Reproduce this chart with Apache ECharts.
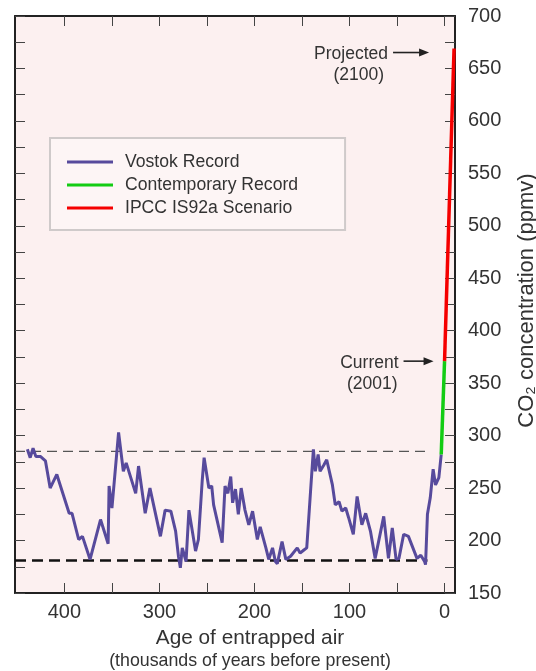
<!DOCTYPE html>
<html>
<head>
<meta charset="utf-8">
<script src="https://cdn.jsdelivr.net/npm/echarts@6/dist/echarts.min.js"></script>
<style>
  html, body { margin: 0; padding: 0; background: #fff; }
  #chart { width: 536px; height: 671px; }
</style>
</head>
<body>
<div id="chart"></div>
<script>
// Vostok ice core: [age (thousand years BP), CO2 ppmv]
var vostokRecord = [
    [439, 287], [436, 279], [433, 288], [430, 280], [425, 280], [420, 276],
    [415, 250], [408, 263], [395, 226], [392, 226], [385, 201], [381, 204],
    [373, 182], [362, 220], [354, 197], [353, 252], [350, 231], [343, 303],
    [338, 266], [335, 274], [325, 245], [322, 271], [315, 226], [310, 250],
    [299, 204], [294, 229], [288, 228], [283, 209], [280, 185], [278, 174],
    [276, 193], [272, 180], [269, 229], [262, 190], [259, 201], [255, 257],
    [253, 279], [248, 250], [245, 252], [243, 234], [234, 198], [231, 252],
    [228, 245], [225, 261], [223, 236], [220, 249], [217, 225], [214, 250],
    [210, 229], [206, 215], [202, 228], [197, 201], [194, 213], [188, 193],
    [185, 182], [181, 193], [178, 180], [176, 178], [171, 199], [167, 182],
    [162, 185], [155, 193], [152, 188], [148, 191], [145, 193], [141, 247],
    [138, 287], [136, 266], [133, 282], [131, 266], [127, 272], [124, 277],
    [118, 253], [115, 234], [111, 237], [108, 228], [104, 231], [101, 222],
    [96, 206], [92, 242], [87, 215], [83, 226], [78, 209], [73, 183],
    [64, 223], [59, 183], [55, 212], [51, 182], [48, 183], [43, 206],
    [38, 204], [29, 183], [25, 186], [21, 180], [20, 177], [18, 225],
    [15, 241], [12, 268], [9.5, 253], [6, 260], [3.5, 282]
];
var contemporaryRecord = [[3.5, 282], [0, 371]];
var ipccScenario = [[0, 371], [-10, 669]];

// reference levels (dashed lines) and their age span
var interglacialLevel = 285;
var glacialLevel = 181;
var referenceSpan = [452, 18];

// axis ranges, ticks and labels
var ageRange = [-11, 452];
var ageTicks = [0, 50, 100, 150, 200, 250, 300, 350, 400];
var ageLabels = [0, 100, 200, 300, 400];
var co2Range = [150, 700];
var co2Ticks = [150, 175, 200, 225, 250, 275, 300, 325, 350, 375, 400, 425, 450,
    475, 500, 525, 550, 575, 600, 625, 650, 675, 700];
var co2Labels = [150, 200, 250, 300, 350, 400, 450, 500, 550, 600, 650, 700];

var currentMark = [0, 371];
var projectedMark = [-10, 669];

var FONT = '"Liberation Sans", Arial, Helvetica, sans-serif';
var INK = '#333';

var chart = echarts.init(document.getElementById('chart'));

function edgeAxis(extra) {
    var base = {
        type: 'value',
        axisLine: { show: true, onZero: false, lineStyle: { color: '#222', width: 2 } },
        axisTick: { show: true, inside: true, length: 10, lineStyle: { color: '#444', width: 1 } },
        splitLine: { show: false },
        axisLabel: { show: false }
    };
    return Object.assign(base, extra);
}

var option = {
    animation: false,
    backgroundColor: '#fff',
    grid: {
        left: 15, right: 81, top: 16, bottom: 78,
        outerBoundsMode: 'none', containLabel: false,
        show: true, backgroundColor: '#fcf0f0', borderWidth: 0
    },
    legend: {
        data: ['Vostok Record', 'Contemporary Record', 'IPCC IS92a Scenario'],
        orient: 'vertical',
        left: 50, top: 138,
        icon: 'rect', itemWidth: 46, itemHeight: 3, itemGap: 5,
        padding: [15, 47, 13, 17],
        borderColor: '#cfcaca', borderWidth: 2, backgroundColor: '#fdf5f5',
        textStyle: { fontFamily: FONT, fontSize: 17.6, color: INK, lineHeight: 18, padding: [0, 0, 0, 7] }
    },
    xAxis: [
        edgeAxis({
            position: 'bottom', inverse: true, min: ageRange[0], max: ageRange[1],
            axisTick: { show: true, inside: true, length: 10, customValues: ageTicks, lineStyle: { color: '#444' } },
            axisLabel: { show: true, customValues: ageLabels, margin: 9, fontFamily: FONT, fontSize: 20, color: INK },
            name: '{t|Age of entrapped air}\n{s|(thousands of years before present)}',
            nameLocation: 'middle', nameGap: 33,
            nameTextStyle: {
                padding: [0, 0, 0, 30],
                rich: {
                    t: { fontFamily: FONT, fontSize: 20.8, color: INK, lineHeight: 24 },
                    s: { fontFamily: FONT, fontSize: 17.8, color: INK, lineHeight: 22 }
                }
            }
        }),
        edgeAxis({
            position: 'top', inverse: true, min: ageRange[0], max: ageRange[1],
            axisTick: { show: true, inside: true, length: 10, customValues: ageTicks, lineStyle: { color: '#444' } }
        })
    ],
    yAxis: [
        edgeAxis({
            position: 'right', min: co2Range[0], max: co2Range[1], interval: 50,
            axisTick: { show: true, inside: true, length: 10, customValues: co2Ticks, lineStyle: { color: '#444' } },
            axisLabel: { show: true, customValues: co2Labels, margin: 13, fontFamily: FONT, fontSize: 20, color: INK },
            name: 'CO₂ concentration (ppmv)',
            nameLocation: 'middle', nameGap: 61,
            nameTextStyle: { fontFamily: FONT, fontSize: 22, color: INK, padding: [0, 0, 0, 8] }
        }),
        edgeAxis({
            position: 'left', min: co2Range[0], max: co2Range[1], interval: 50,
            axisTick: { show: true, inside: true, length: 10, customValues: co2Ticks, lineStyle: { color: '#444' } }
        })
    ],
    series: [
        {
            name: 'interglacial', type: 'line', symbol: 'none', silent: true, z: 1,
            data: [[referenceSpan[0], interglacialLevel], [referenceSpan[1], interglacialLevel]],
            lineStyle: { color: '#555', width: 1.3, type: [10, 6] }
        },
        {
            name: 'glacial', type: 'line', symbol: 'none', silent: true, z: 1,
            data: [[referenceSpan[0], glacialLevel], [referenceSpan[1], glacialLevel]],
            lineStyle: { color: '#111', width: 2.5, type: [11, 6] }
        },
        {
            name: 'Vostok Record', type: 'line', symbol: 'none', z: 3,
            data: vostokRecord,
            itemStyle: { color: '#574a9c' },
            lineStyle: { color: '#574a9c', width: 3 }
        },
        {
            name: 'Contemporary Record', type: 'line', symbol: 'none', z: 4,
            data: contemporaryRecord,
            itemStyle: { color: '#13cc13' },
            lineStyle: { color: '#13cc13', width: 3.5 }
        },
        {
            name: 'IPCC IS92a Scenario', type: 'line', symbol: 'none', z: 4, clip: false,
            data: ipccScenario,
            itemStyle: { color: '#f50000' },
            lineStyle: { color: '#f50000', width: 3.5 }
        }
    ]
};

chart.setOption(option);

// annotations pointing at the present and the projection
function arrow(x1, x2, y) {
    return [
        { type: 'line', shape: { x1: x1, y1: y, x2: x2 - 6, y2: y }, style: { stroke: '#222', lineWidth: 1.6 } },
        { type: 'polygon', shape: { points: [[x2, y], [x2 - 10, y - 4], [x2 - 10, y + 4]] }, style: { fill: '#222' } }
    ];
}
function label(text, x, y) {
    return { type: 'text', x: x, y: y, style: { text: text, fontFamily: FONT, fontSize: 17.5, fill: INK, align: 'right', verticalAlign: 'middle' } };
}
var cur = chart.convertToPixel({ xAxisIndex: 0, yAxisIndex: 0 }, currentMark);
var proj = chart.convertToPixel({ xAxisIndex: 0, yAxisIndex: 0 }, projectedMark);
var els = []
    .concat(arrow(cur[0] - 41, cur[0] - 11, cur[1]))
    .concat([label('Current', cur[0] - 46, cur[1] + 2), label('(2001)', cur[0] - 47, cur[1] + 23)])
    .concat(arrow(proj[0] - 61, proj[0] - 25, proj[1] + 4))
    .concat([label('Projected', proj[0] - 66, proj[1] + 6), label('(2100)', proj[0] - 70, proj[1] + 27)]);
chart.setOption({ graphic: els });
</script>
</body>
</html>
